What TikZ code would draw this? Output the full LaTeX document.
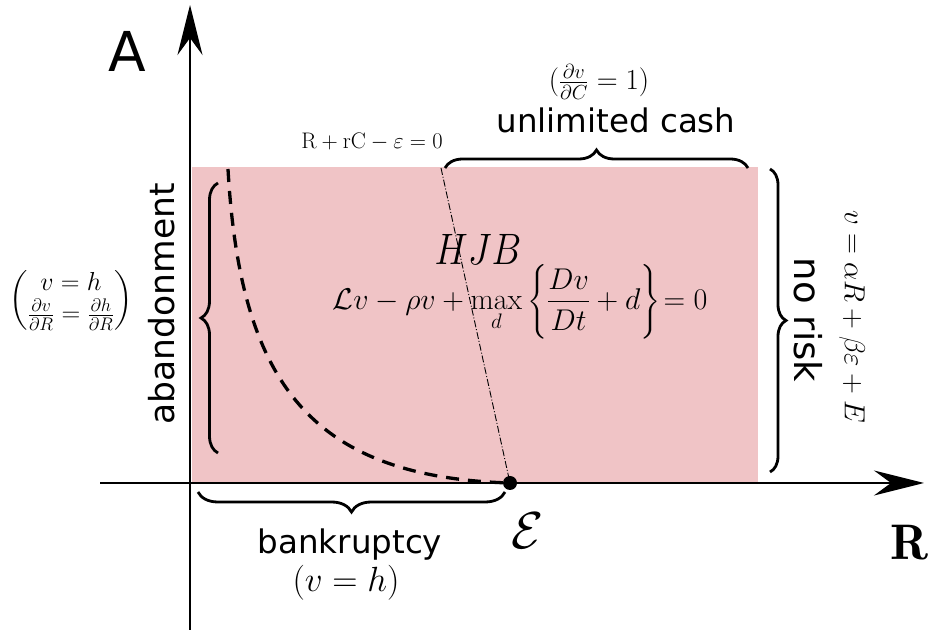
\RequirePackage{fix-cm}
\documentclass[tikz,border=0pt]{standalone}
\usepackage{amsmath}
\usepackage{fontspec}
\setsansfont{DejaVu Sans}
\usetikzlibrary{positioning,arrows.meta,decorations.pathreplacing,calc}
\definecolor{HJPink}{HTML}{F0C4C6}
\definecolor{HJInk}{HTML}{000000}
\tikzset{
  hjaxis/.style={-{Stealth[length=50pt,width=25pt,inset=17pt]},line width=2.6pt,draw=HJInk},
  hjbrace/.style={decorate,decoration={brace,amplitude=#1},line width=2.8pt,draw=HJInk},
  hjbrace/.default=16pt,
  hjsans/.style={font=\sffamily\fontsize{32.5}{38}\selectfont,inner sep=0pt},
  hjmath/.style={inner sep=0pt},
  hjdashed/.style={line width=3.3pt,dash pattern=on 13pt off 9pt,draw=HJInk},
  hjdashdot/.style={line width=0.9pt,dash pattern=on 7pt off 2pt on 1pt off 2pt,draw=HJInk},
}
\begin{document}
\begin{tikzpicture}[x=1pt,y=1pt]
  \useasboundingbox (0,0) rectangle (938,635);

  % region
  \fill[HJPink] (192,152) rectangle (758,468);
  \coordinate (origin) at (190,152);
  \coordinate (yend) at (190,5);
  \coordinate (ytip) at (190,630);
  \coordinate (xend) at (100,152);
  \coordinate (xtip) at (924,152);

  % axes
  \draw[hjaxis] (yend) -- (ytip);
  \draw[hjaxis] (xend) -- (xtip);

  % boundary curves
  \node[circle,fill=HJInk,inner sep=0pt,minimum size=14pt] (eps) at (510,152) {};
  \coordinate (curvetop) at (228,466);
  \coordinate (linetop) at (441,467);
  \draw[hjdashed] (curvetop) .. controls (240,255) and (308,158) .. (eps.center);
  \draw[hjdashdot] (linetop) -- (eps.center);

  % axis labels
  \node[hjsans,font=\sffamily\fontsize{55}{60}\selectfont] (alabel) at (127,584) {A};
  \node[hjmath,font=\fontsize{50}{54}\selectfont] (rlabel) at (909,92) {$\mathbf{R}$};
  \node[hjmath,font=\fontsize{52}{56}\selectfont] (epslabel) at (528,104) {$\mathcal{E}$};

  % top edge
  \node[hjmath,font=\fontsize{22.5}{26}\selectfont] (zeroline) at (372,493)
    {$\mathrm{R+rC}-\varepsilon=0$};
  \draw[hjbrace=18pt] (445,467) -- (748,467);
  \node[hjsans] (cashlabel) at (616,515) {unlimited cash};
  \node[hjmath,font=\fontsize{29}{32}\selectfont] (cashcond) at (599,553)
    {$(\frac{\partial v}{\partial C}=1)$};

  % right edge
  \draw[hjbrace=16pt] (770,466) -- (770,163);
  \node[hjsans,rotate=-90,font=\sffamily\fontsize{37}{42}\selectfont] (risklabel) at (808,315) {no risk};
  \node[hjmath,rotate=-90,font=\fontsize{29}{32}\selectfont] (riskcond) at (852,318)
    {$v=\alpha R+\beta\varepsilon+E$};

  % left edge
  \draw[hjbrace=17pt] (218,182) -- (218,452);
  \node[hjsans,rotate=90,font=\sffamily\fontsize{34.5}{40}\selectfont] (abanlabel) at (162,331) {abandonment};
  \node[hjmath,font=\fontsize{26}{30}\selectfont] (abancond) at (71,335)
    {$\left(\begin{matrix} v=h\\ \frac{\partial v}{\partial R}=\frac{\partial h}{\partial R}\end{matrix}\right)$};

  % bottom edge
  \draw[hjbrace=20pt] (505,143) -- (198,143);
  \node[hjsans] (bankrlabel) at (350,90) {bankruptcy};
  \node[hjmath,font=\fontsize{35}{38}\selectfont] (bankrcond) at (346,52) {$(v=h)$};

  % interior
  \node[hjmath,xscale=0.85,font=\fontsize{44}{48}\selectfont] (hjb) at (478,386) {$HJB$};
  \node[hjmath,font=\fontsize{30}{34}\selectfont] (hjbeq) at (520,333)
    {$\displaystyle \mathcal{L}v-\rho v+\max_d\left\{\frac{Dv}{Dt}+d\right\}\!=0$};
\end{tikzpicture}
\end{document}
